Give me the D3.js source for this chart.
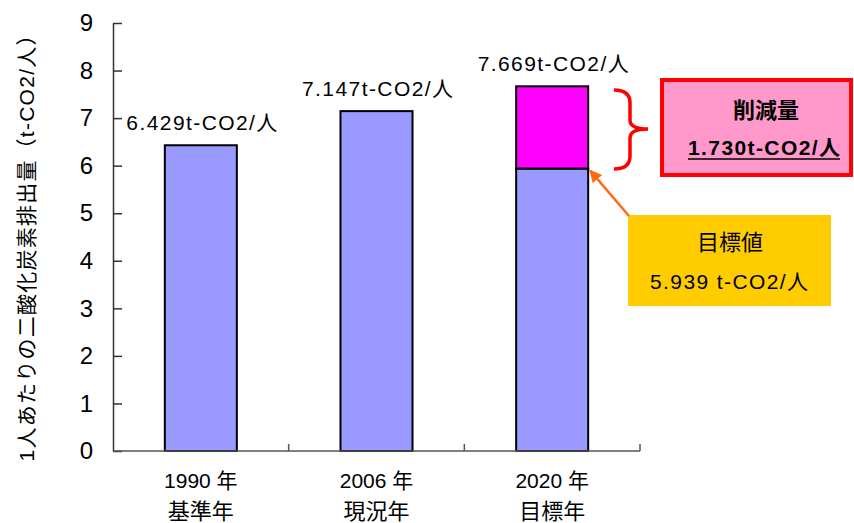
<!DOCTYPE html>
<html><head><meta charset="utf-8">
<script src="https://cdn.jsdelivr.net/npm/d3@7"></script>
<style>
html,body{margin:0;padding:0;background:#fff;}
text{font-family:"Liberation Sans",Arial,"Noto Sans CJK JP",sans-serif;fill:#000;}
</style></head>
<body>
<svg id="chart" width="854" height="523"></svg>
<script>
// ---- data ----
const categories = ["1990 年", "2006 年", "2020 年"];
const categorySub = ["基準年", "現況年", "目標年"];
const baseValues = [6.429, 7.147, 5.939];
const reductionValues = [0, 0, 1.730];
const barLabels = ["6.429t-CO2/人", "7.147t-CO2/人", "7.669t-CO2/人"];
const yTicks = [0, 1, 2, 3, 4, 5, 6, 7, 8, 9];
const yTitle = "1人あたりの二酸化炭素排出量（t-CO2/人）";
const reductionTitle = "削減量";
const reductionText = "1.730t-CO2/人";
const targetTitle = "目標値";
const targetText = "5.939 t-CO2/人";

const svg = d3.select("#chart");
const y = d3.scaleLinear().domain([0, 9]).range([451, 23]);
const x = d3.scaleBand().domain(categories).range([113, 640]).paddingInner(0.59).paddingOuter(0.295);

// y axis
const yAxis = svg.append("g").attr("transform", "translate(113,0)")
  .call(d3.axisLeft(y).tickValues(yTicks).tickFormat(d3.format("d"))
        .tickSizeInner(-9).tickSizeOuter(0).tickPadding(20));
yAxis.select(".domain").attr("stroke", "#333").attr("stroke-width", 1.5);
yAxis.selectAll(".tick line").attr("stroke", "#333").attr("stroke-width", 1.5);
yAxis.selectAll(".tick text").style("font-size", "24px").style("font-family", '"Liberation Sans",Arial,sans-serif').attr("fill", "#000");

// bars: base
svg.append("g").selectAll("rect").data(categories).join("rect")
  .attr("x", d => x(d))
  .attr("width", x.bandwidth())
  .attr("y", (d, i) => y(baseValues[i]))
  .attr("height", (d, i) => y(0) - y(baseValues[i]))
  .attr("fill", "#9999FF").attr("stroke", "#000").attr("stroke-width", 2);

// bars: reduction
svg.append("g").selectAll("rect").data(categories.filter((d, i) => reductionValues[i] > 0)).join("rect")
  .attr("x", d => x(d))
  .attr("width", x.bandwidth())
  .attr("y", d => { const i = categories.indexOf(d); return y(baseValues[i] + reductionValues[i]); })
  .attr("height", d => { const i = categories.indexOf(d); return y(baseValues[i]) - y(baseValues[i] + reductionValues[i]); })
  .attr("fill", "#FF00FF").attr("stroke", "#000").attr("stroke-width", 2);

// x axis (drawn after bars)
const xg = svg.append("g");
xg.append("line").attr("x1", 113).attr("x2", 640).attr("y1", y(0)).attr("y2", y(0))
  .attr("stroke", "#555").attr("stroke-width", 1.5);
const bounds = categories.map(d => x(d) + x.bandwidth() + x.step() * x.paddingInner() / 2);
bounds[bounds.length - 1] = x.range()[1];
xg.selectAll("line.tk").data(bounds).join("line").attr("class", "tk")
  .attr("x1", d => d).attr("x2", d => d).attr("y1", y(0)).attr("y2", y(0) - 7)
  .attr("stroke", "#555").attr("stroke-width", 1.5);
xg.selectAll("text.c1").data(categories).join("text").attr("class", "c1")
  .attr("x", d => x(d) + x.bandwidth() / 2).attr("y", 488)
  .attr("text-anchor", "middle").style("font-size", "21px").text(d => d);
xg.selectAll("text.c2").data(categorySub).join("text").attr("class", "c2")
  .attr("x", (d, i) => x(categories[i]) + x.bandwidth() / 2).attr("y", 519)
  .attr("text-anchor", "middle").style("font-size", "22px").text(d => d);

// bar value labels
svg.append("g").selectAll("text").data(barLabels).join("text")
  .attr("x", (d, i) => x(categories[i]) + x.bandwidth() / 2 + 1)
  .attr("y", (d, i) => y(baseValues[i] + reductionValues[i]) - 15)
  .attr("text-anchor", "middle").style("font-size", "21px")
  .attr("textLength", 151).attr("lengthAdjust", "spacing")
  .text(d => d);

// y title
svg.append("text").attr("transform", "translate(34,243) rotate(-90)")
  .attr("text-anchor", "middle").style("font-size", "21px")
  .attr("textLength", 437).attr("lengthAdjust", "spacing")
  .text(yTitle);

// brace
svg.append("path")
  .attr("d", "M614,90 Q630,90 630,103 L630,120 Q630,129 648,129 Q630,129 630,138 L630,156 Q630,169 614,169")
  .attr("fill", "none").attr("stroke", "#FF0000").attr("stroke-width", 3.5);

// reduction box
svg.append("rect").attr("x", 662).attr("y", 80).attr("width", 189).attr("height", 95)
  .attr("fill", "#FF99CC").attr("stroke", "#FF0000").attr("stroke-width", 4);
svg.append("text").attr("x", 766).attr("y", 118).attr("text-anchor", "middle")
  .style("font-size", "22px").style("font-weight", "bold").text(reductionTitle);
svg.append("text").attr("x", 764).attr("y", 155).attr("text-anchor", "middle")
  .style("font-size", "21px").style("font-weight", "bold")
  .attr("textLength", 152).attr("lengthAdjust", "spacing").text(reductionText);
svg.append("line").attr("x1", 688).attr("x2", 840).attr("y1", 159).attr("y2", 159)
  .attr("stroke", "#000").attr("stroke-width", 1.5);

// target box
svg.append("rect").attr("x", 628).attr("y", 215).attr("width", 203).attr("height", 91)
  .attr("fill", "#FFCC00");
svg.append("text").attr("x", 730).attr("y", 250).attr("text-anchor", "middle")
  .style("font-size", "22px").text(targetTitle);
svg.append("text").attr("x", 729).attr("y", 289).attr("text-anchor", "middle")
  .style("font-size", "21px").attr("textLength", 158).attr("lengthAdjust", "spacing").text(targetText);

// arrow
const defs = svg.append("defs");
defs.append("marker").attr("id", "ah").attr("viewBox", "0 0 10 10").attr("refX", 9).attr("refY", 5)
  .attr("markerWidth", 5).attr("markerHeight", 5).attr("orient", "auto")
  .append("path").attr("d", "M0,0 L10,5 L0,10 z").attr("fill", "#FF6A13");
svg.append("line").attr("x1", 629).attr("y1", 216)
  .attr("x2", x(categories[2]) + x.bandwidth() + 2).attr("y2", y(baseValues[2]) + 2)
  .attr("stroke", "#FF6A13").attr("stroke-width", 2.5).attr("marker-end", "url(#ah)");
</script>
</body></html>
